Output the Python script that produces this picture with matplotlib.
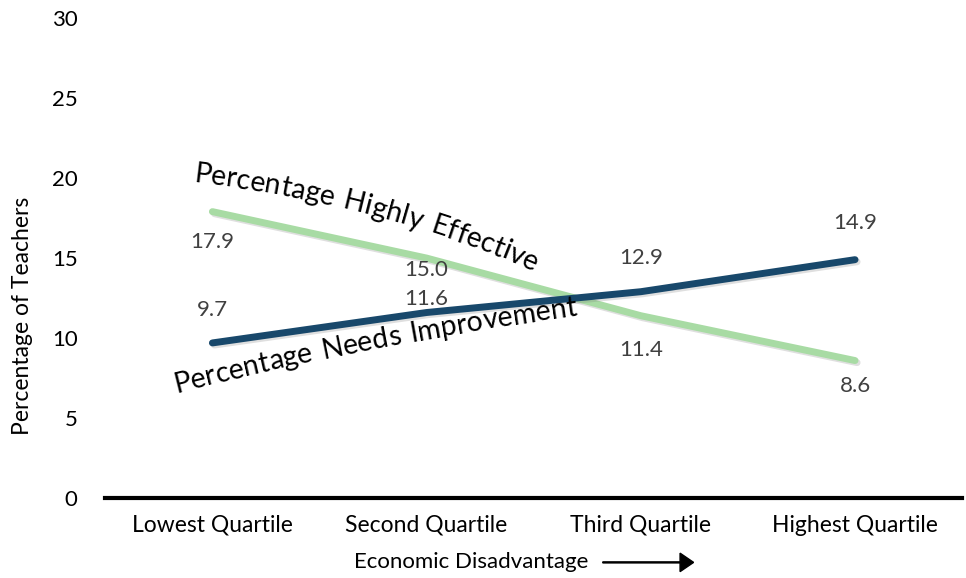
import numpy as np
import matplotlib.pyplot as plt
import matplotlib.patheffects as pe

plt.rcParams['font.family'] = ['Lato', 'DejaVu Sans']

quartiles = ['Lowest Quartile', 'Second Quartile', 'Third Quartile', 'Highest Quartile']
highly_effective = [17.9, 15.0, 11.4, 8.6]
needs_improvement = [9.7, 11.6, 12.9, 14.9]

green = '#a8dba4'
navy = '#18486b'
label_col = '#404040'


def curved_text(ax, fig, text, x0, y0, angles, size):
    # place characters one by one along a path in pixel space
    fig.canvas.draw()
    r = fig.canvas.get_renderer()
    n = len(text)
    x, y = x0, y0
    for i, ch in enumerate(text):
        ang = angles[0] + (angles[1] - angles[0]) * i / max(n - 1, 1)
        t = ax.text(0, 0, ch if ch != ' ' else 'n', fontsize=size)
        w = t.get_window_extent(r).width
        t.remove()
        if ch == ' ':
            w *= 0.6
        a = np.radians(ang)
        cx = x + 0.5 * w * np.cos(a)
        cy = y + 0.5 * w * np.sin(a)
        fig.text(cx / fig.bbox.width, cy / fig.bbox.height, ch, fontsize=size,
                 rotation=ang, ha='center', va='baseline', rotation_mode='anchor',
                 color='black')
        x += w * np.cos(a)
        y += w * np.sin(a)


fig = plt.figure(figsize=(9.66, 5.78), dpi=100)
ax = fig.add_axes([0.109, 0.138, 0.887, 0.831])

xs = np.arange(len(quartiles))
shadow = [pe.SimpleLineShadow(offset=(1.5, -1.5), alpha=0.25, shadow_color='gray'), pe.Normal()]
ax.plot(xs, highly_effective, color=green, lw=5, solid_capstyle='round', path_effects=shadow)
ax.plot(xs, needs_improvement, color=navy, lw=5, solid_capstyle='round', path_effects=shadow)

he_off = [-30, -12, -34, -25]
ni_off = [33, 14, 34, 37]
for i in range(len(xs)):
    ax.annotate(f'{highly_effective[i]:.1f}', (xs[i], highly_effective[i]),
                xytext=(0, he_off[i] * 0.72), textcoords='offset points',
                ha='center', va='center', fontsize=16, color=label_col)
    ax.annotate(f'{needs_improvement[i]:.1f}', (xs[i], needs_improvement[i]),
                xytext=(0, ni_off[i] * 0.72), textcoords='offset points',
                ha='center', va='center', fontsize=16, color=label_col)

ax.set_xlim(-0.5, 3.5)
ax.set_ylim(0, 30)
ax.set_yticks(range(0, 31, 5))
ax.set_xticks(xs)
ax.set_xticklabels(quartiles, fontsize=16.5)
ax.tick_params(axis='y', labelsize=16, length=0, pad=20)
ax.tick_params(axis='x', length=0, pad=12)
for s in ['top', 'right', 'left']:
    ax.spines[s].set_visible(False)
ax.spines['bottom'].set_linewidth(3)
ax.set_ylabel('Percentage of Teachers', fontsize=16.5)
ax.yaxis.set_label_coords(-0.084, 0.38)

fig.text(0.488, 0.027, 'Economic Disadvantage', fontsize=16, ha='center', va='center')
fig.patches.append(plt.matplotlib.patches.FancyArrow(
    0.624, 0.027, 0.08, 0, width=0.0018, head_width=0.032, head_length=0.014,
    color='black', transform=fig.transFigure, figure=fig))

H = 578
curved_text(ax, fig, 'Percentage Highly Effective', 193, H - 182, (-7, -23), 20.5)
curved_text(ax, fig, 'Percentage Needs Improvement', 176, H - 393, (14, 8), 20.5)

fig.savefig('out.png', dpi=100)
